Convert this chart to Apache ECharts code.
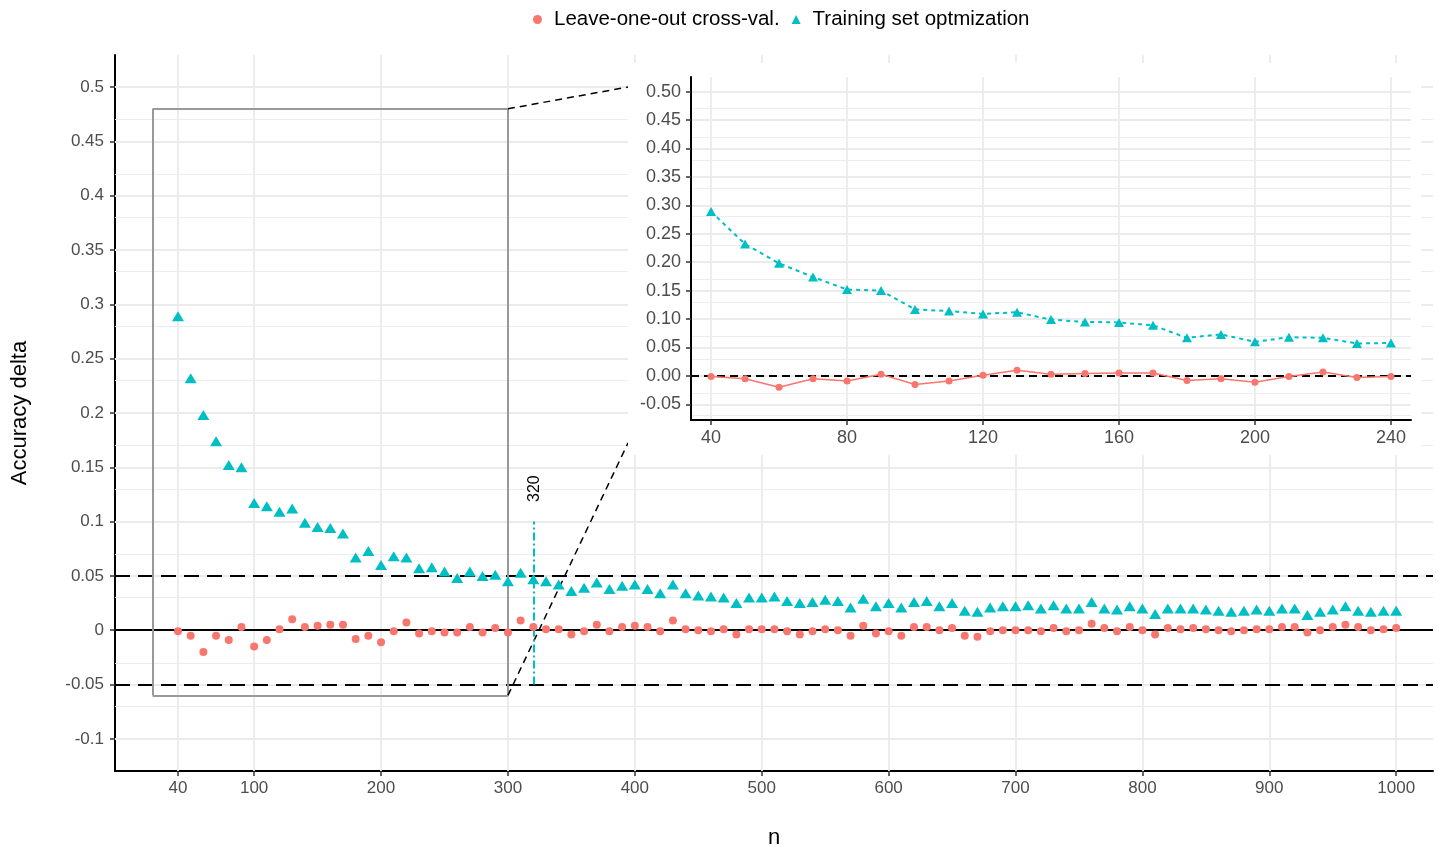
<!DOCTYPE html>
<html>
<head>
<meta charset="utf-8">
<title>Accuracy delta</title>
<script src="https://cdn.jsdelivr.net/npm/echarts@6/dist/echarts.min.js"></script>
<style>
  html, body { margin: 0; background: #fff; }
  #chart { width: 1439px; height: 847px; }
</style>
</head>
<body>
<div id="chart"></div>
<script>
// training set size n
const sampleSizes = [
  40, 50, 60, 70, 80, 90, 100, 110, 120, 130, 140, 150, 160, 170, 180, 190, 200, 210, 220, 230,
  240, 250, 260, 270, 280, 290, 300, 310, 320, 330, 340, 350, 360, 370, 380, 390, 400, 410, 420, 430,
  440, 450, 460, 470, 480, 490, 500, 510, 520, 530, 540, 550, 560, 570, 580, 590, 600, 610, 620, 630,
  640, 650, 660, 670, 680, 690, 700, 710, 720, 730, 740, 750, 760, 770, 780, 790, 800, 810, 820, 830,
  840, 850, 860, 870, 880, 890, 900, 910, 920, 930, 940, 950, 960, 970, 980, 990, 1000
]
// Leave-one-out cross-val.
const looDelta = [
  -0.001, -0.005, -0.020, -0.005, -0.009, 0.003, -0.015, -0.009, 0.001, 0.010,
  0.003, 0.004, 0.005, 0.005, -0.008, -0.005, -0.011, -0.001, 0.007, -0.003,
  -0.001, -0.002, -0.002, 0.003, -0.002, 0.002, -0.002, 0.009, 0.003, 0.001,
  0.001, -0.004, -0.001, 0.005, -0.001, 0.003, 0.004, 0.003, -0.001, 0.009,
  0.001, 0.000, -0.001, 0.001, -0.004, 0.001, 0.001, 0.001, -0.001, -0.004,
  -0.001, 0.001, 0.000, -0.005, 0.004, -0.003, -0.001, -0.005, 0.003, 0.003,
  0.000, 0.002, -0.005, -0.006, -0.001, 0.000, 0.000, 0.000, -0.001, 0.002,
  -0.001, 0.000, 0.006, 0.002, -0.001, 0.003, 0.000, -0.004, 0.002, 0.001,
  0.002, 0.001, 0.000, -0.001, 0.000, 0.001, 0.001, 0.003, 0.003, -0.002,
  0.000, 0.003, 0.005, 0.003, 0.000, 0.001, 0.002
]
// Training set optmization
const tsoDelta = [
  0.289, 0.232, 0.198, 0.174, 0.152, 0.150, 0.117, 0.114, 0.109, 0.112,
  0.099, 0.095, 0.094, 0.089, 0.067, 0.073, 0.060, 0.068, 0.067, 0.057,
  0.058, 0.054, 0.048, 0.054, 0.050, 0.051, 0.045, 0.053, 0.047, 0.045,
  0.042, 0.036, 0.039, 0.044, 0.038, 0.041, 0.042, 0.038, 0.034, 0.042,
  0.034, 0.032, 0.031, 0.030, 0.025, 0.030, 0.030, 0.031, 0.027, 0.025,
  0.026, 0.028, 0.027, 0.021, 0.029, 0.022, 0.025, 0.021, 0.026, 0.027,
  0.022, 0.025, 0.018, 0.017, 0.021, 0.022, 0.022, 0.023, 0.020, 0.023,
  0.020, 0.020, 0.026, 0.020, 0.019, 0.022, 0.020, 0.015, 0.020, 0.020,
  0.020, 0.019, 0.018, 0.017, 0.018, 0.019, 0.018, 0.020, 0.020, 0.014,
  0.017, 0.019, 0.022, 0.018, 0.017, 0.018, 0.018
]

const mainXTicks = [40, 100, 200, 300, 400, 500, 600, 700, 800, 900, 1000]
const mainYTicks = [-0.1, -0.05, 0, 0.05, 0.1, 0.15, 0.2, 0.25, 0.3, 0.35, 0.4, 0.45, 0.5]
const mainYMinor = [-0.125, -0.075, -0.025, 0.025, 0.075, 0.125, 0.175, 0.225, 0.275, 0.325, 0.375, 0.425, 0.475, 0.525]
const insetXTicks = [40, 80, 120, 160, 200, 240]
const insetYTicks = [-0.05, 0, 0.05, 0.1, 0.15, 0.2, 0.25, 0.3, 0.35, 0.4, 0.45, 0.5]
const insetYMinor = [-0.075, -0.025, 0.025, 0.075, 0.125, 0.175, 0.225, 0.275, 0.325, 0.375, 0.425, 0.475, 0.525]
const insetMaxN = 240

// annotations
const zoomBox = { n0: 20, n1: 300, y0: -0.06, y1: 0.48 }
const connectorEnds = { n: 394.7, top: 0.5, bottom: 0.1725 }
const chosenN = 320
const chosenRange = [-0.05, 0.1]
const threshold = 0.05

const RED = '#F8766D'
const TEAL = '#00BFC4'
const GRID = '#EBEBEB'
const FONT = '"Liberation Sans", Arial, Helvetica, sans-serif'

const mainLoo = sampleSizes.map((n, i) => [n, looDelta[i]])
const mainTso = sampleSizes.map((n, i) => [n, tsoDelta[i]])
const insetLoo = mainLoo.filter(p => p[0] <= insetMaxN)
const insetTso = mainTso.filter(p => p[0] <= insetMaxN)

function gridLineData(xs, ys, ysMinor) {
    const major = { color: GRID, width: 1.8, type: 'solid' }
    const minor = { color: GRID, width: 0.9, type: 'solid' }
    return [].concat(
        ysMinor.map(v => ({ yAxis: v, lineStyle: minor })),
        ys.map(v => ({ yAxis: v, lineStyle: major })),
        xs.map(v => ({ xAxis: v, lineStyle: major }))
    )
}

function seg(a, b, style) {
    return [{ coord: a, lineStyle: style }, { coord: b }]
}

const boxStyle = { color: '#999999', width: 2, type: 'solid' }
const connStyle = { color: '#000', width: 1.5, type: [7, 5] }

const axisLineStyle = { onZero: false, lineStyle: { color: '#000', width: 2 } }
const tickStyle = { color: '#333', width: 1.5 }

const chart = echarts.init(document.getElementById('chart'))

chart.setOption({
    animation: false,
    backgroundColor: '#fff',
    textStyle: { fontFamily: FONT },
    legend: {
        top: 4,
        left: 528,
        itemWidth: 9,
        itemHeight: 9,
        itemGap: 12,
        textStyle: { fontSize: 20.5, color: '#000', padding: [0, 0, 0, 7] },
        data: [
            { name: 'Leave-one-out cross-val.', icon: 'circle' },
            { name: 'Training set optmization', icon: 'triangle' }
        ]
    },
    grid: [
        { left: 115, top: 55, width: 1318, height: 716, outerBoundsMode: 'none' },
        { left: 691, top: 77, width: 720, height: 343, outerBoundsMode: 'none' }
    ],
    xAxis: [
        {
            gridIndex: 0, type: 'value', min: -9.65, max: 1029,
            name: 'n', nameLocation: 'middle', nameGap: 56,
            nameTextStyle: { fontSize: 22, color: '#000' },
            axisLine: axisLineStyle,
            axisTick: { customValues: mainXTicks, length: 5, lineStyle: tickStyle },
            axisLabel: {
                customValues: mainXTicks, fontSize: 17, color: '#4d4d4d', margin: 9,
                formatter: v => String(v)
            },
            splitLine: { show: false }
        },
        {
            gridIndex: 1, type: 'value', min: 34.1, max: 245.9, z: 6,
            axisLine: axisLineStyle,
            axisTick: { customValues: insetXTicks, length: 5, lineStyle: tickStyle },
            axisLabel: {
                customValues: insetXTicks, fontSize: 18, color: '#4d4d4d', margin: 9,
                formatter: v => String(v)
            },
            splitLine: { show: false }
        }
    ],
    yAxis: [
        {
            gridIndex: 0, type: 'value', min: -0.1296, max: 0.5295,
            name: 'Accuracy delta', nameLocation: 'middle', nameRotate: 90, nameGap: 84,
            nameTextStyle: { fontSize: 22, color: '#000' },
            axisLine: axisLineStyle,
            axisTick: { customValues: mainYTicks, length: 5, lineStyle: tickStyle },
            axisLabel: {
                customValues: mainYTicks, fontSize: 17, color: '#4d4d4d', margin: 11,
                formatter: v => String(parseFloat(v.toFixed(3)))
            },
            splitLine: { show: false }
        },
        {
            gridIndex: 1, type: 'value', min: -0.0776, max: 0.5258, z: 6,
            axisLine: axisLineStyle,
            axisTick: { customValues: insetYTicks, length: 5, lineStyle: tickStyle },
            axisLabel: {
                customValues: insetYTicks, fontSize: 18, color: '#4d4d4d', margin: 10,
                formatter: v => v.toFixed(2)
            },
            splitLine: { show: false }
        }
    ],
    series: [
        {
            name: 'main-grid', type: 'line', data: [], xAxisIndex: 0, yAxisIndex: 0,
            markLine: {
                z: 1, silent: true, symbol: ['none', 'none'], label: { show: false },
                data: gridLineData(mainXTicks, mainYTicks, mainYMinor)
            }
        },
        {
            name: 'main-annotations', type: 'line', data: [], xAxisIndex: 0, yAxisIndex: 0,
            markLine: {
                z: 3, silent: true, symbol: ['none', 'none'], label: { show: false },
                data: [
                    { yAxis: threshold, lineStyle: { color: '#000', width: 2, type: [15, 8] } },
                    { yAxis: -threshold, lineStyle: { color: '#000', width: 2, type: [15, 8] } },
                    { yAxis: 0, lineStyle: { color: '#000', width: 2, type: 'solid' } },
                    seg([zoomBox.n0, zoomBox.y0], [zoomBox.n1, zoomBox.y0], boxStyle),
                    seg([zoomBox.n1, zoomBox.y0], [zoomBox.n1, zoomBox.y1], boxStyle),
                    seg([zoomBox.n1, zoomBox.y1], [zoomBox.n0, zoomBox.y1], boxStyle),
                    seg([zoomBox.n0, zoomBox.y1], [zoomBox.n0, zoomBox.y0], boxStyle),
                    seg([zoomBox.n1, zoomBox.y1], [connectorEnds.n, connectorEnds.top], connStyle),
                    seg([zoomBox.n1, zoomBox.y0], [connectorEnds.n, connectorEnds.bottom], connStyle),
                    seg([chosenN, chosenRange[0]], [chosenN, chosenRange[1]],
                        { color: TEAL, width: 2, type: [8, 3, 2, 3] })
                ]
            }
        },
        {
            name: 'Leave-one-out cross-val.', type: 'scatter', xAxisIndex: 0, yAxisIndex: 0, z: 3,
            symbol: 'circle', symbolSize: 8,
            itemStyle: { color: RED, opacity: 1 },
            data: mainLoo
        },
        {
            name: 'Training set optmization', type: 'scatter', xAxisIndex: 0, yAxisIndex: 0, z: 3,
            symbol: 'triangle', symbolSize: [12, 10],
            itemStyle: { color: TEAL, opacity: 1 },
            data: mainTso
        },
        {
            name: 'inset-grid', type: 'line', data: [], xAxisIndex: 1, yAxisIndex: 1,
            markLine: {
                z: 5, silent: true, symbol: ['none', 'none'], label: { show: false },
                data: gridLineData(insetXTicks, insetYTicks, insetYMinor)
            }
        },
        {
            name: 'inset-zero', type: 'line', data: [], xAxisIndex: 1, yAxisIndex: 1,
            markLine: {
                z: 6, silent: true, symbol: ['none', 'none'], label: { show: false },
                data: [{ yAxis: 0, lineStyle: { color: '#000', width: 2, type: [8, 5] } }]
            }
        },
        {
            name: 'Leave-one-out cross-val.', type: 'line', xAxisIndex: 1, yAxisIndex: 1, z: 7,
            symbol: 'circle', symbolSize: 7, showSymbol: true,
            lineStyle: { color: RED, width: 1.5 },
            itemStyle: { color: RED },
            data: insetLoo
        },
        {
            name: 'Training set optmization', type: 'line', xAxisIndex: 1, yAxisIndex: 1, z: 7,
            symbol: 'triangle', symbolSize: [10, 9], showSymbol: true,
            lineStyle: { color: TEAL, width: 2, type: [4, 4] },
            itemStyle: { color: TEAL },
            data: insetTso
        }
    ]
})

// white panel behind the inset, and the "320" label above the vertical marker
const labelAnchor = chart.convertToPixel({ gridIndex: 0 }, [chosenN, chosenRange[1]])
chart.setOption({
    graphic: [
        {
            type: 'rect', z: 4, silent: true,
            shape: { x: 628, y: 63, width: 793, height: 392 },
            style: { fill: '#fff' }
        },
        {
            type: 'text', z: 6, silent: true,
            x: labelAnchor[0] + 1, y: labelAnchor[1] - 33, rotation: Math.PI / 2,
            style: {
                text: String(chosenN), fontSize: 16, fontFamily: FONT, fill: '#000',
                align: 'center', verticalAlign: 'middle'
            }
        }
    ]
})
</script>
</body>
</html>
